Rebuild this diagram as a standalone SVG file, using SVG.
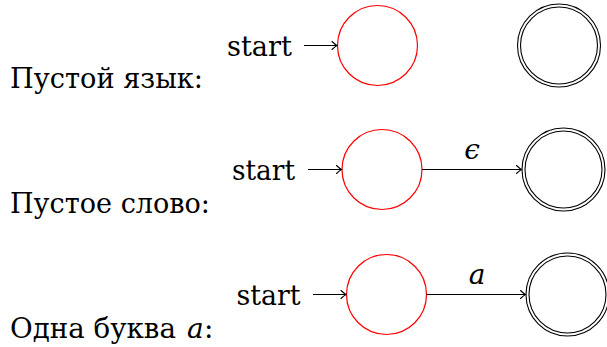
<svg xmlns="http://www.w3.org/2000/svg" width="607" height="347" viewBox="0 0 607 347">
<style>
text{font-family:'DejaVu Serif','Liberation Serif',serif;font-size:28px;fill:#000}
.m{font-style:italic}
.init{fill:none;stroke:#ff0000;stroke-width:1.2}
.acc{fill:none;stroke:#000;stroke-width:1.1}
.edge{fill:none;stroke:#000;stroke-width:1.2;marker-end:url(#arr)}
</style>
<defs>
<marker id="arr" viewBox="-6 -5 7 10" markerWidth="7" markerHeight="10" refX="0" refY="0" orient="auto" markerUnits="userSpaceOnUse">
<path d="M -5 -4 Q -1.5 -0.8 0 0 Q -1.5 0.8 -5 4" fill="none" stroke="#000" stroke-width="1.1" stroke-linecap="round"/>
</marker>
</defs>
<g id="labels">
<text x="10" y="88" textLength="193" lengthAdjust="spacingAndGlyphs">Пустой язык:</text>
<text x="10" y="213" textLength="200" lengthAdjust="spacingAndGlyphs">Пустое слово:</text>
<text x="10" y="338" textLength="166" lengthAdjust="spacingAndGlyphs">Одна буква</text>
<text class="m" x="187" y="338">a</text>
<text x="204" y="338">:</text>
</g>
<g id="q0_1"><circle class="init" cx="377.5" cy="45.5" r="40"/></g>
<g id="q1_1"><circle class="acc" cx="559" cy="45.5" r="41.5"/><circle class="acc" cx="559" cy="45.5" r="38.5"/></g>
<g id="q0_2"><circle class="init" cx="382" cy="169.5" r="40"/></g>
<g id="q1_2"><circle class="acc" cx="563.5" cy="169.5" r="41.5"/><circle class="acc" cx="563.5" cy="169.5" r="38.5"/></g>
<g id="q0_3"><circle class="init" cx="386.5" cy="294.5" r="40"/></g>
<g id="q1_3"><circle class="acc" cx="567.5" cy="294.5" r="41.5"/><circle class="acc" cx="567.5" cy="294.5" r="38.5"/></g>
<g id="connectors">
<text x="227" y="55.5" textLength="65" lengthAdjust="spacingAndGlyphs">start</text>
<line class="edge" x1="304" y1="45.5" x2="337" y2="45.5"/>
<text x="232" y="179.5" textLength="63" lengthAdjust="spacingAndGlyphs">start</text>
<line class="edge" x1="308" y1="169.5" x2="341.5" y2="169.5"/>
<line class="edge" x1="422" y1="169.5" x2="521.5" y2="169.5"/>
<text class="m" x="472" y="159" text-anchor="middle">ϵ</text>
<text x="236.5" y="304.5" textLength="64" lengthAdjust="spacingAndGlyphs">start</text>
<line class="edge" x1="313" y1="294.5" x2="346" y2="294.5"/>
<line class="edge" x1="426.5" y1="294.5" x2="525.5" y2="294.5"/>
<text class="m" x="477" y="284" text-anchor="middle">a</text>
</g>
</svg>
